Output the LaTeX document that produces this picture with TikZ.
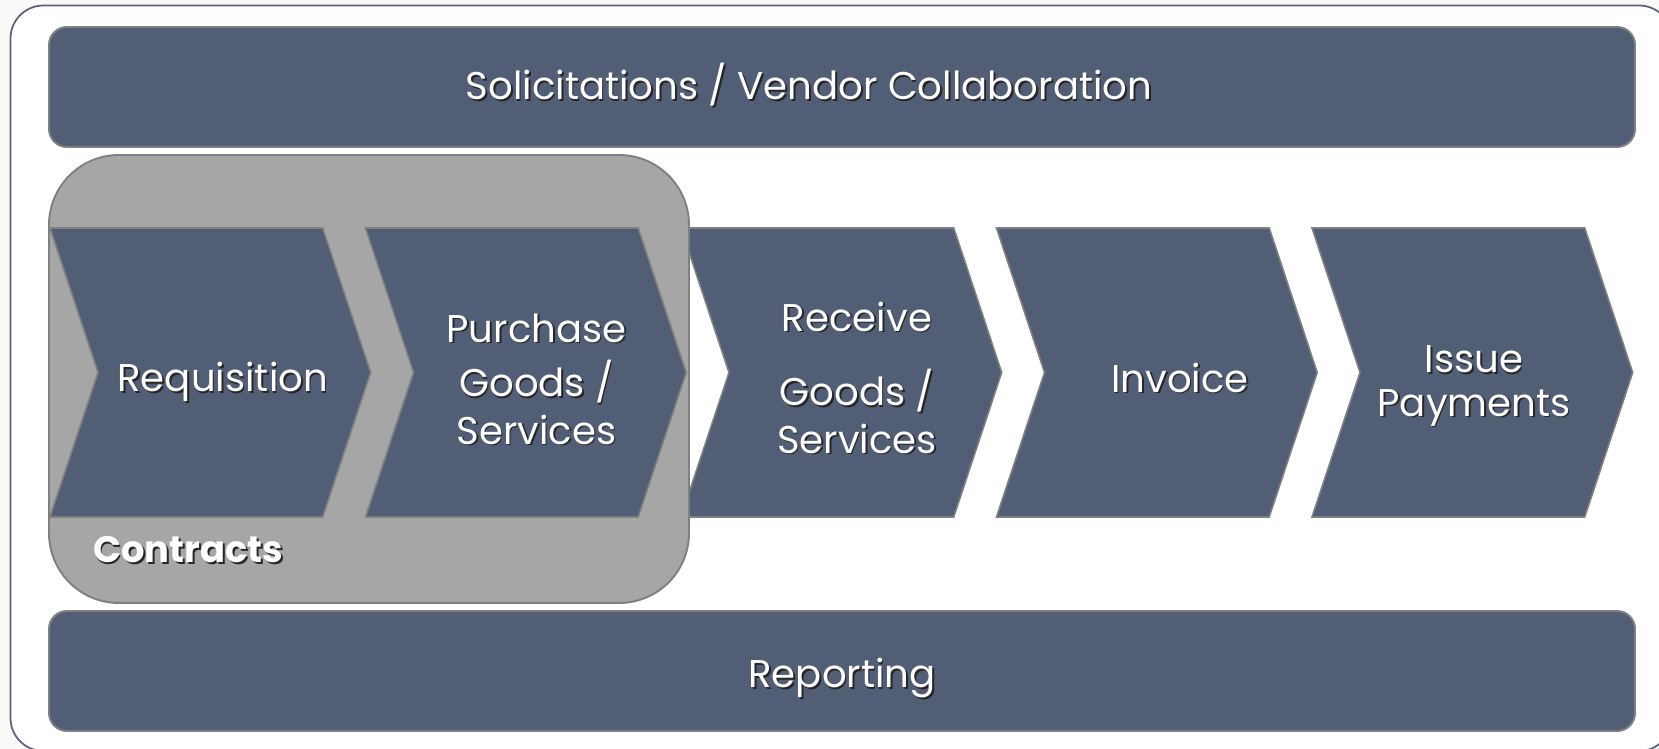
\documentclass[tikz,border=0pt]{standalone}
\usepackage{fontspec}
\setmainfont{Poppins}
\usepackage{tikz}
\usetikzlibrary{positioning,calc}

\definecolor{slate}{HTML}{525E76}
\definecolor{edgegray}{HTML}{808080}
\definecolor{boxgray}{HTML}{A6A6A6}
\definecolor{framecol}{HTML}{56627E}
\definecolor{pagebg}{HTML}{FBF9F7}

% white label with a dark drop shadow: [options]{name}{x,y}{text}
\newcommand{\shadowtext}[4][]{%
  \node[lbl,#1,text=black!85] at ($(#3)+(1.6,1.6)$) {#4};
  \node[lbl,#1] (#2) at (#3) {#4};}

\begin{document}
\begin{tikzpicture}[x=0.02cm, y=-0.02cm,
    lbl/.style={text=white, align=center, inner sep=0pt,
      font=\fontsize{22}{27}\selectfont},
    bar/.style={draw=edgegray, fill=slate, line width=1.1pt, rounded corners=0.36cm},
    chev/.style={draw=edgegray, fill=slate, line width=0.9pt, line join=miter}]
    \useasboundingbox (0,0) rectangle (1659,749);
    \clip (0,0) rectangle (1659,749);
    \fill[pagebg] (0,0) rectangle (1659,749);

    % outer frame
    \draw[framecol, fill=white, line width=1pt, rounded corners=0.66cm]
        (10.5,5.5) rectangle (1672,751);

    % top and bottom bars
    \draw[bar] (49,27) rectangle (1635,147);
    \draw[bar] (49,611) rectangle (1635,731);

    % chevrons outside the contracts box
    \foreach \cx in {681,996.5,1312}
        \draw[chev] (\cx,228) -- ++(272.7,0) -- ++(48,144.5) -- ++(-48,144.5)
            -- ++(-272.7,0) -- ++(48,-144.5) -- cycle;

    % contracts box
    \draw[draw=edgegray, fill=boxgray, line width=1.1pt, rounded corners=1.4cm]
        (49,155) rectangle (689,603);
    \foreach \cx in {50,365.5}
        \draw[chev] (\cx,228) -- ++(272.7,0) -- ++(48,144.5) -- ++(-48,144.5)
            -- ++(-272.7,0) -- ++(48,-144.5) -- cycle;

    % labels
    \shadowtext{solicit}{809,85}{Solicitations / Vendor Collaboration}
    \shadowtext{report}{842,678}{Reporting}
    \shadowtext{requisition}{222.7,382}{Requisition}
    \shadowtext{purchase}{536.5,379}{Purchase\\[4pt]Goods /\\Services}
    \shadowtext{receive}{857,377.7}{Receive\\[15.5pt]Goods /\\Services}
    \shadowtext{invoice}{1180,377.7}{Invoice}
    \shadowtext[font=\fontsize{22}{24.5}\selectfont]{payments}{1474,386}{Issue\\Payments}
    \shadowtext[anchor=west, font=\fontsize{21}{27}\selectfont\bfseries]{contracts}{93,550}{Contracts}
\end{tikzpicture}
\end{document}
